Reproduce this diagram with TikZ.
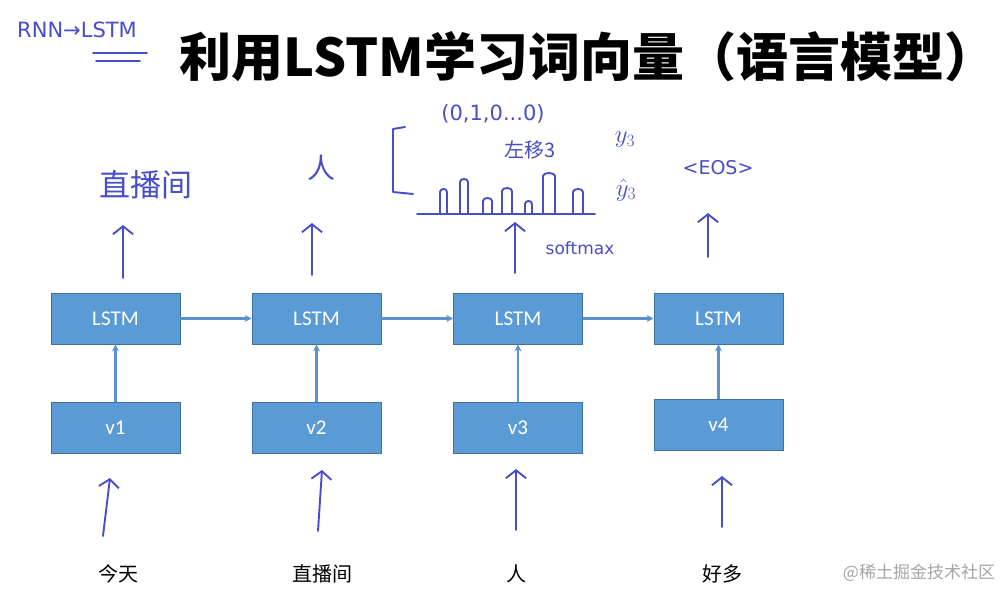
\documentclass[tikz,border=0pt]{standalone}
\usepackage{fontspec}
\setmainfont{Carlito}
\newfontfamily\cjk{Noto Sans CJK SC}
\newfontfamily\hand{DejaVu Sans}
\usetikzlibrary{arrows.meta}
\definecolor{boxblue}{RGB}{91,155,213}
\definecolor{boxline}{RGB}{65,113,156}
\definecolor{flow}{RGB}{91,145,205}
\definecolor{ink}{RGB}{72,78,200}
\definecolor{wmark}{RGB}{165,165,165}
\begin{document}
\begin{tikzpicture}[x=1pt,y=-1pt,
  cell/.style={draw=boxline, line width=0.8pt, fill=boxblue, minimum width=129pt, minimum height=51pt, inner sep=0pt, text=white, font=\fontsize{21}{21}\selectfont},
  flowarrow/.style={draw=flow, line width=2.4pt, -{Stealth[length=7pt,width=7pt]}},
  pen/.style={draw=ink, line width=1.9pt, line cap=round, line join=round},
  penarrow/.style={pen, -{Straight Barb[length=8pt,width=20pt]}},
  handtext/.style={text=ink, inner sep=0pt},
  word/.style={font=\cjk\fontsize{20}{20}\selectfont, inner sep=0pt},
]
\useasboundingbox (0,0) rectangle (1006,589);
\fill[white] (0,0) rectangle (1006,589);

% title
\node[inner sep=0pt, font=\cjk\bfseries\fontsize{52}{52}\selectfont] (title) at (588,57) {利用LSTM学习词向量（语言模型）};
\node[handtext, font=\hand\fontsize{21}{21}\selectfont] (rnn) at (77,30) {RNN→LSTM};
\coordinate (u1a) at (93,53); \coordinate (u1b) at (147,53);
\coordinate (u2a) at (96,61); \coordinate (u2b) at (140,61);
\draw[pen] (u1a) -- (u1b);
\draw[pen] (u2a) -- (u2b);

% LSTM cells
\node[cell] (L1) at (115.5,318.5) {LSTM};
\node[cell] (L2) at (316.5,318.5) {LSTM};
\node[cell] (L3) at (518,318.5) {LSTM};
\node[cell] (L4) at (718.5,318.5) {LSTM};
% inputs
\node[cell] (v1) at (115.5,427.5) {v1};
\node[cell] (v2) at (316.5,427.5) {v2};
\node[cell] (v3) at (518,427.5) {v3};
\node[cell] (v4) at (718.5,424.5) {v4};

\draw[flowarrow] (L1) -- (L2);
\draw[flowarrow] (L2) -- (L3);
\draw[flowarrow] (L3) -- (L4);
\draw[flowarrow] (v1) -- (L1);
\draw[flowarrow] (v2) -- (L2);
\draw[flowarrow] (v3) -- (L3);
\draw[flowarrow] (v4) -- (L4);

% words
\node[word] (w1) at (118,574) {今天};
\node[word] (w2) at (322,574) {直播间};
\node[word] (w3) at (516,574) {人};
\node[word] (w4) at (722,574) {好多};
\node[inner sep=0pt, text=wmark, font=\cjk\fontsize{17}{17}\selectfont] (wm) at (919,573) {@稀土掘金技术社区};

% hand-drawn input arrows
\coordinate (b1s) at (103,536); \coordinate (b1e) at (110,478);
\coordinate (b2s) at (318,531); \coordinate (b2e) at (322,470);
\coordinate (b3s) at (516,530); \coordinate (b3e) at (516,469);
\coordinate (b4s) at (722,527); \coordinate (b4e) at (722,476);
\draw[penarrow] (b1s) -- (b1e);
\draw[penarrow] (b2s) -- (b2e);
\draw[penarrow] (b3s) -- (b3e);
\draw[penarrow] (b4s) -- (b4e);

% hand-drawn output arrows
\coordinate (t1s) at (123,278); \coordinate (t1e) at (123,225);
\coordinate (t2s) at (312,275); \coordinate (t2e) at (312,223);
\coordinate (t3s) at (515,273); \coordinate (t3e) at (515,222);
\coordinate (t4s) at (708,257); \coordinate (t4e) at (708,213);
\draw[penarrow] (t1s) -- (t1e);
\draw[penarrow] (t2s) -- (t2e);
\draw[penarrow] (t3s) -- (t3e);
\draw[penarrow] (t4s) -- (t4e);

% outputs
\node[handtext, font=\cjk\fontsize{31}{31}\selectfont] (o1) at (146,185) {直播间};
\node[handtext, font=\cjk\fontsize{28}{28}\selectfont] (o2) at (321,168) {人};
\node[handtext, font=\hand\fontsize{19}{19}\selectfont] (o4) at (718,168) {<EOS>};
\node[handtext, font=\hand\fontsize{17}{17}\selectfont] (sm) at (580,248) {softmax};
\node[handtext, font=\hand\fontsize{21}{21}\selectfont] (onehot) at (493,114) {(0,1,0...0)};
\node[handtext, font=\cjk\fontsize{20}{20}\selectfont] (lab) at (530,150) {左移3};
\node[handtext, font=\fontsize{26}{26}\selectfont] (y3) at (625,140) {$y_3$};
\node[handtext, font=\fontsize{26}{26}\selectfont] (yh3) at (626,190) {$\hat{y}_3$};

% bracket
\draw[pen] (405,127) -- (393,129) -- (393,192) -- (413,194);
% distribution
\draw[pen] (417,214) -- (595,214);
\foreach \a/\b/\t in {440/447/188, 460/468/178, 483/492/197, 502/512/187, 525/532/200, 543/555/172, 573/583/188}{
  \draw[pen] (\a,214) -- (\a,\t+4) .. controls (\a,\t) and (\b,\t) .. (\b,\t+4) -- (\b,214);
}
\end{tikzpicture}
\end{document}
